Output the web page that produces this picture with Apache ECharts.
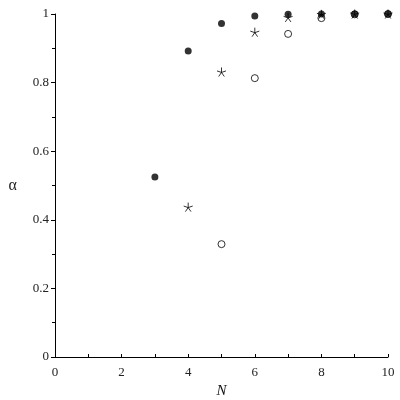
<!DOCTYPE html>
<html>
<head>
<meta charset="utf-8">
<script src="https://cdn.jsdelivr.net/npm/echarts@6/dist/echarts.min.js"></script>
<style>
  html, body { margin: 0; padding: 0; background: #fff; }
  #chart { width: 400px; height: 400px; }
</style>
</head>
<body>
<div id="chart"></div>
<script>
const nValues = [3, 4, 5, 6, 7, 8, 9, 10];
const filledCircle = [0.525, 0.892, 0.972, 0.994, 0.999, 1.0, 1.0, 1.0];
const stars = [null, 0.437, 0.831, 0.947, 0.99, 0.999, 1.0, 1.0];
const openCircle = [null, null, 0.329, 0.813, 0.942, 0.988, 0.999, 1.0];

const pairs = (ys) => nValues.map((n, i) => [n, ys[i]]).filter(p => p[1] != null);

const starPath = 'path://M0,-10 L0,0 M0,0 L9.5,-3.1 M0,0 L5.9,8.1 M0,0 L-5.9,8.1 M0,0 L-9.5,-3.1';
const serif = '"Liberation Serif", "DejaVu Serif", serif';

const chart = echarts.init(document.getElementById('chart'));
chart.setOption({
  animation: false,
  backgroundColor: '#fff',
  textStyle: { fontFamily: serif },
  grid: { left: 55, right: 12, top: 14, bottom: 43, outerBoundsMode: 'none', containLabel: false },
  xAxis: {
    type: 'value', min: 0, max: 10, interval: 2,
    name: 'N', nameLocation: 'middle', nameGap: 27,
    nameTextStyle: { fontFamily: serif, fontStyle: 'italic', fontSize: 15, color: '#111' },
    axisLine: { lineStyle: { color: '#000', width: 1 } },
    axisTick: { inside: true, length: 3, lineStyle: { color: '#000' } },
    minorTick: { show: true, splitNumber: 2, length: 3, lineStyle: { color: '#000' } },
    axisLabel: { fontFamily: serif, fontSize: 13, color: '#222', margin: 9 },
    splitLine: { show: false }
  },
  yAxis: {
    type: 'value', min: 0, max: 1, interval: 0.2,
    name: 'α', nameLocation: 'middle', nameGap: 38, nameRotate: 0,
    nameTextStyle: { fontFamily: serif, fontSize: 16, color: '#222' },
    axisLine: { show: true, lineStyle: { color: '#000', width: 1 } },
    axisTick: { show: true, inside: false, length: 4, lineStyle: { color: '#000' } },
    minorTick: { show: true, splitNumber: 2, length: 3, lineStyle: { color: '#000' } },
    axisLabel: { fontFamily: serif, fontSize: 13, color: '#222', margin: 6 },
    splitLine: { show: false }
  },
  series: [
    {
      type: 'scatter', data: pairs(openCircle), symbol: 'circle', symbolSize: 7,
      itemStyle: { color: '#fff', borderColor: '#000', borderWidth: 1 }
    },
    {
      type: 'scatter', data: pairs(stars), symbol: starPath, symbolSize: 9,
      itemStyle: { color: 'none', borderColor: '#000', borderWidth: 1 }
    },
    {
      type: 'scatter', data: pairs(filledCircle), symbol: 'circle', symbolSize: 7,
      itemStyle: { color: '#000' }
    }
  ]
});
</script>
</body>
</html>
